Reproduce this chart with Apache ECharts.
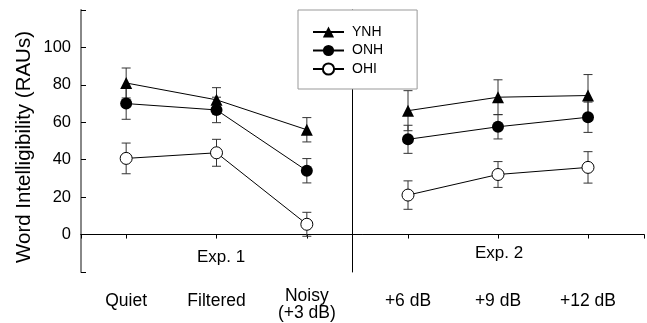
<!DOCTYPE html>
<html>
<head>
<meta charset="utf-8">
<script src="https://cdn.jsdelivr.net/npm/echarts@6/dist/echarts.min.js"></script>
<style>html,body{margin:0;padding:0;background:#fff;}#c{width:647px;height:323px;}</style>
</head>
<body>
<div id="c"></div>
<script>
// ---- data ----
const exp1Categories = ['Quiet', 'Filtered', 'Noisy\n(+3 dB)'];
const exp2Categories = ['+6 dB', '+9 dB', '+12 dB'];
const groups = ['YNH', 'ONH', 'OHI'];

const ynhExp1 = [81, 72, 56];
const onhExp1 = [70, 66.6, 34.1];
const ohiExp1 = [40.7, 43.7, 5.5];
const ynhExp1Err = [8, 6.5, 6.5];
const onhExp1Err = [8.4, 6.8, 6.5];
const ohiExp1Err = [8.2, 7.2, 6.4];

const ynhExp2 = [66.2, 73.4, 74.3];
const onhExp2 = [50.9, 57.6, 62.7];
const ohiExp2 = [21.1, 32.1, 35.9];
const ynhExp2Err = [10.7, 9.3, 11.2];
const onhExp2Err = [7.5, 6.5, 8.1];
const ohiExp2Err = [7.6, 6.9, 8.4];

const yTicksShown = [0, 20, 40, 60, 80, 100];
const yTitle = 'Word Intelligibility (RAUs)';
const expLabels = ['Exp. 1', 'Exp. 2'];

// ---- chart ----
const FONT = '"Liberation Sans", Arial, sans-serif';
const chart = echarts.init(document.getElementById('c'), null, {renderer: 'canvas'});

const markerStyles = {
  YNH: {symbol: 'triangle', symbolSize: 12, itemStyle: {color: '#000', borderColor: '#000', borderWidth: 0}},
  ONH: {symbol: 'circle', symbolSize: 12, itemStyle: {color: '#000', borderColor: '#000', borderWidth: 0}},
  OHI: {symbol: 'circle', symbolSize: 12, itemStyle: {color: '#fff', borderColor: '#000', borderWidth: 1}}
};

function lineSeries(name, data, xi, yi) {
  const m = markerStyles[name];
  return {
    type: 'line', name: name, data: data, xAxisIndex: xi, yAxisIndex: yi,
    symbol: m.symbol, symbolSize: m.symbolSize, itemStyle: m.itemStyle,
    lineStyle: {color: '#000', width: 1}, z: 5, showSymbol: true,
    emphasis: {disabled: true}
  };
}

function errSeries(means, errs, xi, yi) {
  return {
    type: 'custom', xAxisIndex: xi, yAxisIndex: yi, z: 3, silent: true,
    data: means.map((m, i) => [i, m - errs[i], m + errs[i]]),
    renderItem: function (params, api) {
      const lo = api.coord([api.value(0), api.value(1)]);
      const hi = api.coord([api.value(0), api.value(2)]);
      const w = 4.5;
      const st = {stroke: '#333', lineWidth: 1};
      return {type: 'group', children: [
        {type: 'line', shape: {x1: lo[0], y1: lo[1], x2: hi[0], y2: hi[1]}, style: st},
        {type: 'line', shape: {x1: lo[0] - w, y1: lo[1], x2: lo[0] + w, y2: lo[1]}, style: st},
        {type: 'line', shape: {x1: hi[0] - w, y1: hi[1], x2: hi[0] + w, y2: hi[1]}, style: st}
      ]};
    }
  };
}

const TOP = 10, BOTTOM = 51;
const yRange = {min: -20, max: 120, interval: 20};

const option = {
  animation: false,
  backgroundColor: '#fff',
  textStyle: {fontFamily: FONT},
  grid: [
    {left: 81, right: 3, top: TOP, bottom: BOTTOM, outerBoundsMode: 'none', containLabel: false},
    {left: 81, width: 271, top: TOP, bottom: BOTTOM, outerBoundsMode: 'none', containLabel: false},
    {left: 363, width: 270, top: TOP, bottom: BOTTOM, outerBoundsMode: 'none', containLabel: false}
  ],
  xAxis: [
    {gridIndex: 0, type: 'value', min: 0, max: 1, interval: 1, position: 'bottom',
      axisLine: {show: true, lineStyle: {color: '#000', width: 1}},
      axisTick: {show: true, length: 4, lineStyle: {color: '#000'}},
      axisLabel: {show: false}, splitLine: {show: false}},
    {gridIndex: 0, type: 'value', min: 0, max: 1, position: 'top',
      axisLine: {show: true, lineStyle: {color: '#000', width: 1}},
      axisTick: {show: false}, axisLabel: {show: false}, splitLine: {show: false}},
    {gridIndex: 1, type: 'category', position: 'bottom',
      data: exp1Categories.map(c => c.indexOf('\n') >= 0
        ? {value: c, textStyle: {lineHeight: 17, padding: [-4, 0, 0, 0]}} : c),
      axisLine: {show: false},
      axisTick: {show: true, alignWithLabel: true, length: 4, lineStyle: {color: '#000'}},
      axisLabel: {fontSize: 17.5, color: '#000', margin: 20, lineHeight: 18, fontFamily: FONT},
      splitLine: {show: false}},
    {gridIndex: 2, type: 'category', data: exp2Categories, position: 'bottom',
      axisLine: {show: false},
      axisTick: {show: true, alignWithLabel: true, length: 4, lineStyle: {color: '#000'}},
      axisLabel: {fontSize: 17.5, color: '#000', margin: 20, lineHeight: 18, fontFamily: FONT},
      splitLine: {show: false}}
  ],
  yAxis: [
    Object.assign({gridIndex: 0, type: 'value', position: 'left',
      axisLine: {show: true, lineStyle: {color: '#000', width: 1}},
      axisTick: {show: true, inside: true, length: 5, lineStyle: {color: '#000'}},
      axisLabel: {fontSize: 16.5, color: '#000', margin: 10, fontFamily: FONT,
        formatter: v => yTicksShown.indexOf(v) >= 0 ? String(v) : ''},
      splitLine: {show: false}}, yRange),
    Object.assign({gridIndex: 0, type: 'value', position: 'right',
      axisLine: {show: true, lineStyle: {color: '#888', width: 2}},
      axisTick: {show: false}, axisLabel: {show: false}, splitLine: {show: false}}, yRange),
    Object.assign({gridIndex: 1, type: 'value', position: 'left', show: false}, yRange),
    Object.assign({gridIndex: 1, type: 'value', position: 'right',
      axisLine: {show: true, lineStyle: {color: '#000', width: 1}},
      axisTick: {show: false}, axisLabel: {show: false}, splitLine: {show: false}}, yRange),
    Object.assign({gridIndex: 2, type: 'value', position: 'left', show: false}, yRange)
  ],
  legend: {
    data: groups, orient: 'vertical', left: 298, top: 10,
    itemWidth: 31, itemHeight: 14, itemGap: 4.5,
    padding: [15, 34, 13, 14],
    backgroundColor: '#fff', borderColor: '#999', borderWidth: 1,
    textStyle: {fontSize: 14, color: '#000', fontFamily: FONT, padding: [0, 0, 0, 3]},
    selectedMode: false, z: 20
  },
  graphic: [
    {type: 'text', x: 24, y: 147, rotation: Math.PI / 2, z: 10,
      style: {text: yTitle, fill: '#000', font: '20.5px ' + FONT, textAlign: 'center', textVerticalAlign: 'middle'}},
    {type: 'text', x: 221, y: 257, z: 10,
      style: {text: expLabels[0], fill: '#000', font: '17px ' + FONT, textAlign: 'center', textVerticalAlign: 'middle'}},
    {type: 'text', x: 499, y: 253, z: 10,
      style: {text: expLabels[1], fill: '#000', font: '17px ' + FONT, textAlign: 'center', textVerticalAlign: 'middle'}}
  ],
  series: [
    errSeries(ynhExp1, ynhExp1Err, 2, 2),
    errSeries(onhExp1, onhExp1Err, 2, 2),
    errSeries(ohiExp1, ohiExp1Err, 2, 2),
    errSeries(ynhExp2, ynhExp2Err, 3, 4),
    errSeries(onhExp2, onhExp2Err, 3, 4),
    errSeries(ohiExp2, ohiExp2Err, 3, 4),
    lineSeries('YNH', ynhExp1, 2, 2),
    lineSeries('ONH', onhExp1, 2, 2),
    lineSeries('OHI', ohiExp1, 2, 2),
    lineSeries('YNH', ynhExp2, 3, 4),
    lineSeries('ONH', onhExp2, 3, 4),
    lineSeries('OHI', ohiExp2, 3, 4)
  ]
};
chart.setOption(option);
</script>
</body>
</html>
